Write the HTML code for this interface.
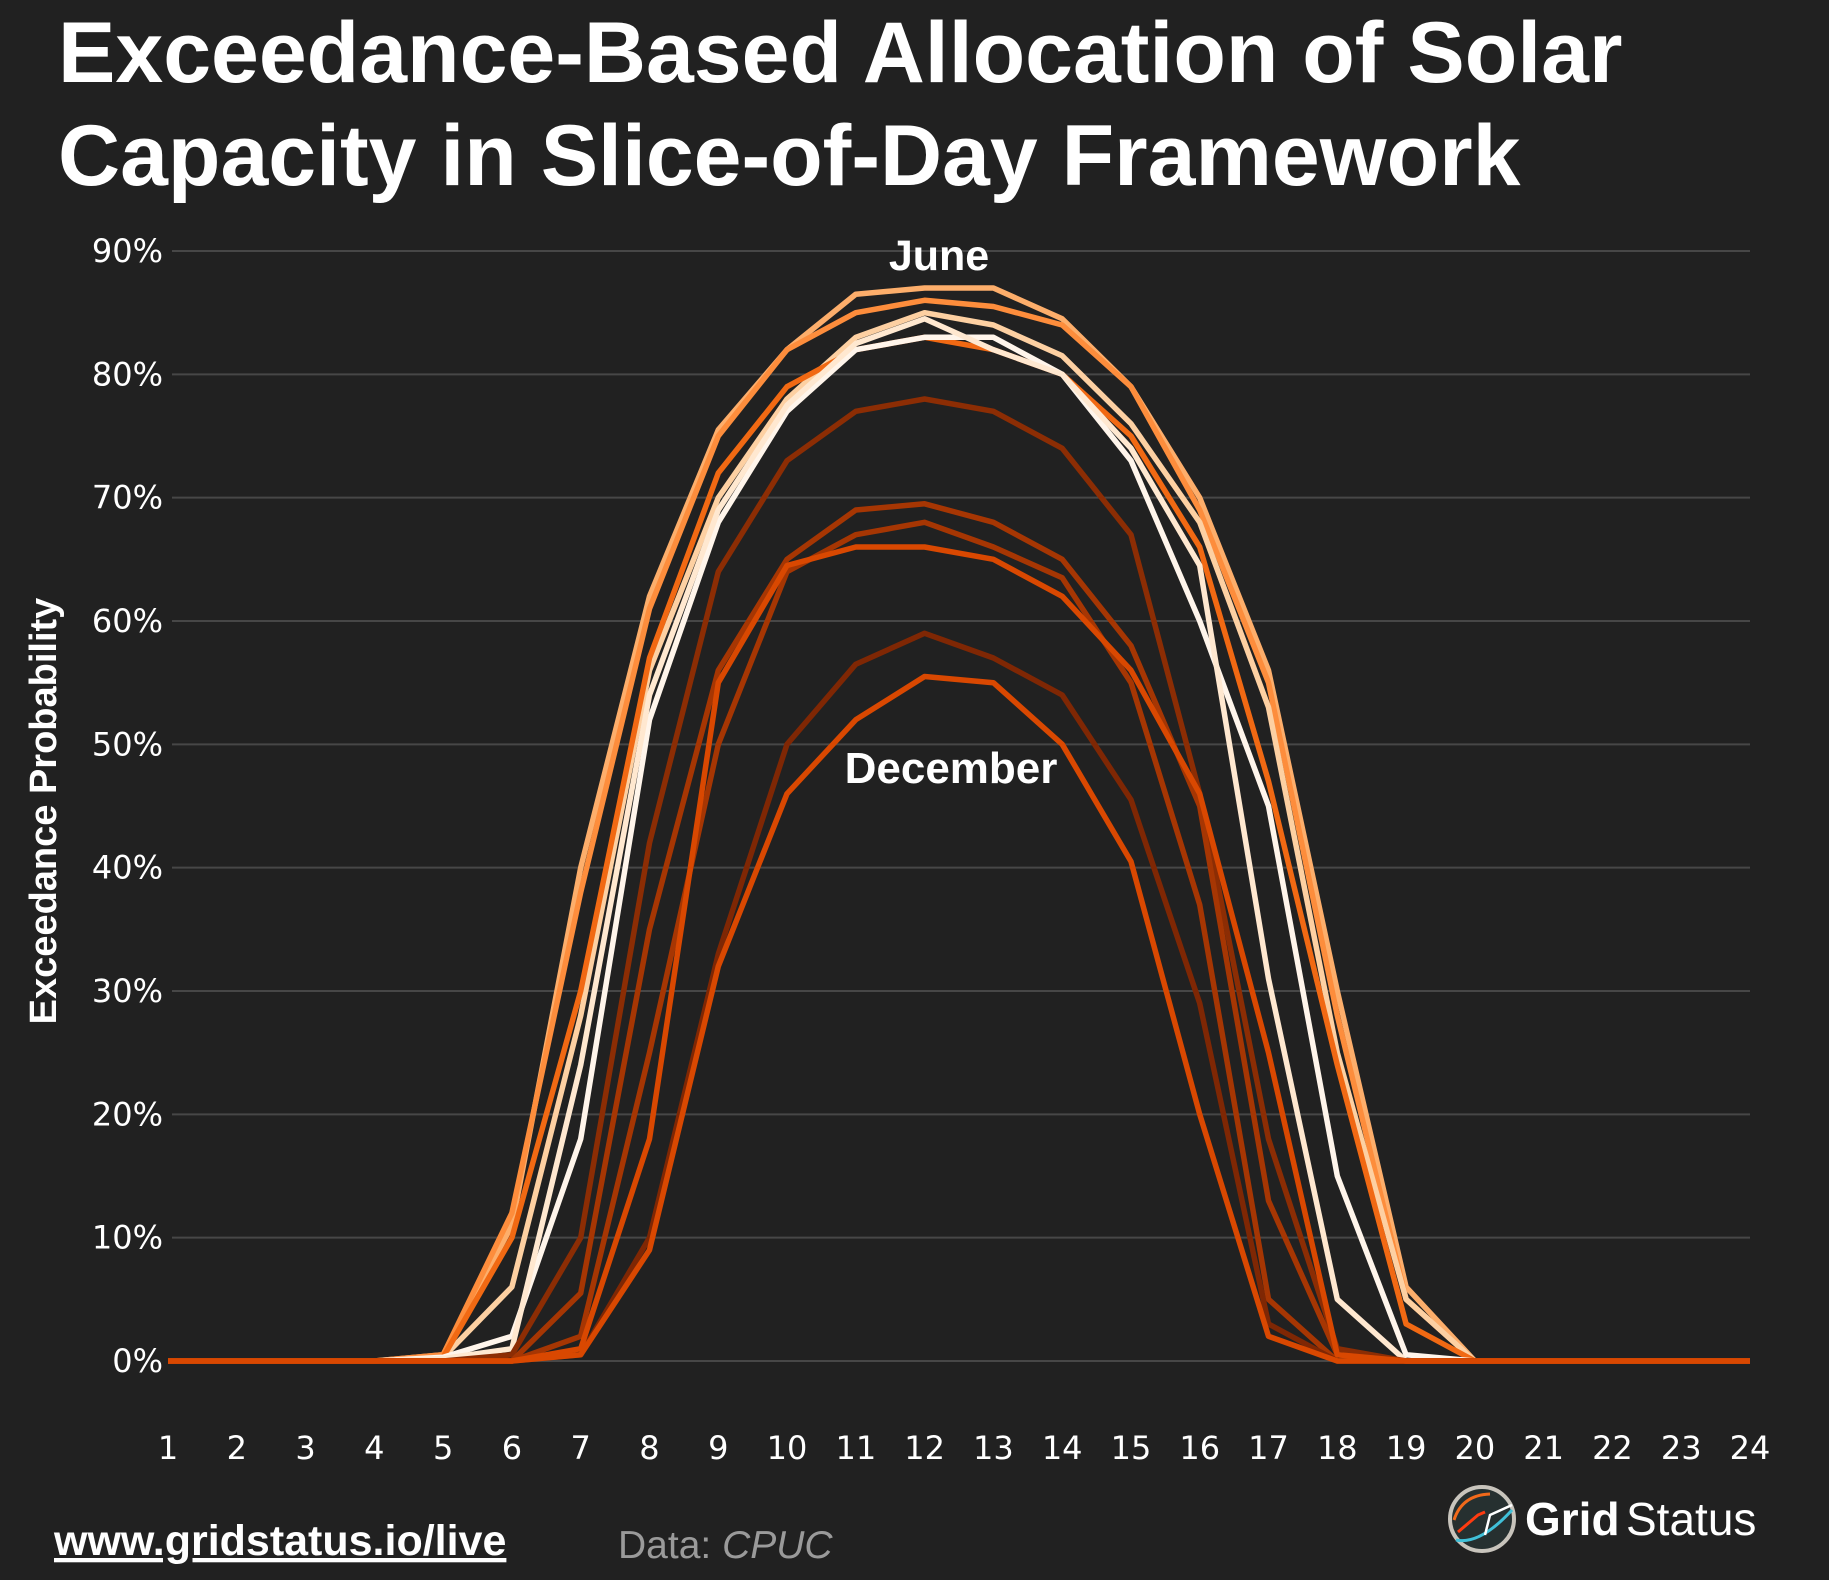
<!DOCTYPE html>
<html><head><meta charset="utf-8">
<style>
html,body{margin:0;padding:0;background:#212121;}
body{width:1829px;height:1580px;position:relative;overflow:hidden;font-family:"Liberation Sans",sans-serif;color:#fff;}
#title{position:absolute;left:58px;top:2px;font-size:86px;font-weight:bold;line-height:103px;margin:0;letter-spacing:0px;}
svg{position:absolute;left:0;top:0;}
</style></head>
<body>
<h1 id="title">Exceedance-Based Allocation of Solar<br>Capacity in Slice-of-Day Framework</h1>
<svg id="chart" width="1829" height="1580"></svg>
<script>
const hours=[1,2,3,4,5,6,7,8,9,10,11,12,13,14,15,16,17,18,19,20,21,22,23,24];
const yTicks=[0,10,20,30,40,50,60,70,80,90];
const seriesNames=['January','February','March','April','May','June','July','August','September','October','November','December'];
const jan=[0,0,0,0,0,0,0.5,10,33,50,56.5,59,57,54,45.5,29,3,0,0,0,0,0,0,0];
const feb=[0,0,0,0,0,0,2,25,50,64,67,68,66,63.5,55,37,5,0,0,0,0,0,0,0];
const mar=[0,0,0,0,0,0.5,10,42,64,73,77,78,77,74,67,46,18,1,0,0,0,0,0,0];
const apr=[0,0,0,0,0.3,2,18,52,68,77,82,83,83,80,73,60,45,15,0.5,0,0,0,0,0];
const may=[0,0,0,0,0.3,10,30,57,72,79,82,83,82,80,75,66,47,24,3,0,0,0,0,0];
const jun=[0,0,0,0,0.5,11,40,62,75.5,82,86.5,87,87,84.5,79,70,56,30,6,0,0,0,0,0];
const jul=[0,0,0,0,0.5,12,38,61,75,82,85,86,85.5,84,79,69,55,28,5,0,0,0,0,0];
const aug=[0,0,0,0,0.3,6,28,56,70,78,83,85,84,81.5,76,68,53,25,5,0,0,0,0,0];
const sep=[0,0,0,0,0.2,1,24,54,69,77.5,82.5,84.5,82,80,74,64.5,31,5,0,0,0,0,0,0];
const oct=[0,0,0,0,0,0,5.5,35,56,65,69,69.5,68,65,58,45,13,0.5,0,0,0,0,0,0];
const nov=[0,0,0,0,0,0,1,18,55,64.5,66,66,65,62,56,46,25,0.5,0,0,0,0,0,0];
const dec=[0,0,0,0,0,0,0.5,9,32,46,52,55.5,55,50,40.5,20,2,0,0,0,0,0,0,0];
const seriesValues=[jan,feb,mar,apr,may,jun,jul,aug,sep,oct,nov,dec];
const colors=['#7f2704','#a63603','#8c2d04','#fff5eb','#f16913','#fdae6b','#fd8d3c','#fdd0a2','#ffe8d0','#a63603','#d94801','#d94801'];
const drawOrder=[5,6,7,4,3,8,2,9,1,0,10,11];
const X0=168,X1=1750,Y0=1361,Y90=251;
const xs=h=>X0+(h-1)*(X1-X0)/23;
const ys=v=>Y0-v*(Y0-Y90)/90;
const NS='http://www.w3.org/2000/svg';
const svg=document.getElementById('chart');
function mk(t,a){const e=document.createElementNS(NS,t);for(const k in a)e.setAttribute(k,a[k]);svg.appendChild(e);return e;}
yTicks.forEach(t=>{
  const l=mk('line',{x1:172,x2:1750,y1:ys(t),y2:ys(t),stroke:'#474747','stroke-width':2});
  
  
  const tx=mk('text',{x:163,y:ys(t)+11,'text-anchor':'end','font-size':32,fill:'#fff','font-family':'DejaVu Sans, sans-serif'});
  tx.textContent=t+'%';
  
  
});
hours.forEach(h=>{
  const tx=mk('text',{x:xs(h),y:1459,'text-anchor':'middle','font-size':32,fill:'#fff','font-family':'DejaVu Sans, sans-serif'});
  tx.textContent=h;
  
  
});
drawOrder.forEach(i=>{
  const d=seriesValues[i].map((v,k)=>(k?'L':'M')+xs(hours[k]).toFixed(1)+','+ys(v).toFixed(1)).join('');
  const p=mk('path',{d:d,fill:'none',stroke:colors[i],'stroke-width':5.5,'stroke-linejoin':'round'});
  
  
});
</script>
<svg width="1829" height="1580" style="pointer-events:none">
<text x="939" y="270" text-anchor="middle" font-size="43" font-weight="bold" fill="#fff">June</text>
<text x="951" y="783" text-anchor="middle" font-size="44" font-weight="bold" fill="#fff">December</text>
<text transform="translate(56,811) rotate(-90)" text-anchor="middle" font-size="38" font-weight="bold" fill="#fff">Exceedance Probability</text>
<text x="54" y="1555" font-size="43" font-weight="bold" fill="#fff" text-decoration="underline">www.gridstatus.io/live</text>
<text x="618" y="1558" font-size="39" fill="#9a9a9a">Data: <tspan font-style="italic">CPUC</tspan></text>
<g>
<circle cx="1482" cy="1519" r="32" fill="#263030" stroke="#c8c4bc" stroke-width="4"/>
<path d="M1454 1520 Q1462 1495 1490 1494" stroke="#f26a1b" stroke-width="3" fill="none"/>
<path d="M1458 1532 L1478 1515 L1485 1512" stroke="#ff3b10" stroke-width="3" fill="none"/>
<path d="M1456 1540 Q1480 1545 1512 1510" stroke="#40c0d8" stroke-width="3" fill="none"/>
<path d="M1485 1535 L1490 1515 L1512 1505" stroke="#fff" stroke-width="2.5" fill="none"/>
<text x="1525" y="1535" font-size="46" font-weight="bold" fill="#fff">Grid</text>
<text x="1626" y="1535" font-size="46" fill="#fff">Status</text>
</g>
</svg>
</body></html>
